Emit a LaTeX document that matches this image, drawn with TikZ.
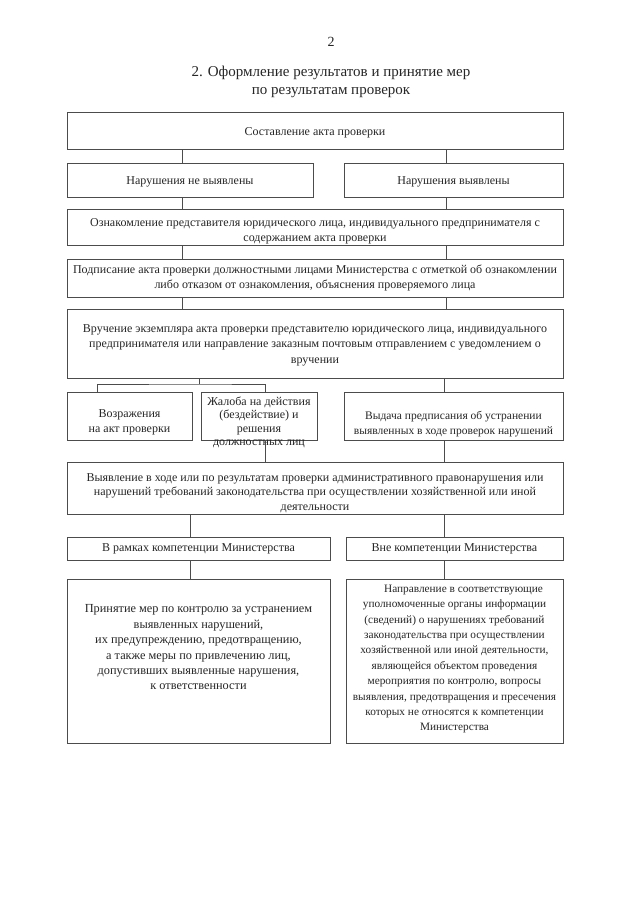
\documentclass[tikz,border=0pt]{standalone}
\usepackage{fontspec}
\setmainfont{Liberation Serif}
\newcommand\lowerby[1]{\rule{0pt}{#1}}
\begin{document}
\begin{tikzpicture}[x=1pt,y=-1pt,
  box/.style={draw=black!70, line width=0.7pt, inner sep=0pt, align=center,
    text=black!85, font=\fontsize{12}{15.5}\selectfont},
  txt/.style={inner sep=0pt, align=center, text=black!85, font=\fontsize{12}{15.3}\selectfont},
  ln/.style={draw=black!70, line width=0.7pt}]
\useasboundingbox[fill=white] (0,0) rectangle (640,905);

\node[txt, font=\fontsize{14}{17}\selectfont] (pg) at (331,42) {2};
\node[txt, font=\fontsize{15}{17.5}\selectfont] (title) at (331,82) {2. Оформление результатов и принятие мер\\по результатам проверок};

\node[box, minimum width=496pt, minimum height=37pt] (b1) at (315,130.5) {\lowerby{12pt}Составление акта проверки};
\node[box, minimum width=246pt, minimum height=34pt] (r2l) at (190,180) {\lowerby{12pt}Нарушения не выявлены};
\node[box, minimum width=219pt, minimum height=34pt] (r2r) at (453.5,180) {\lowerby{12pt}Нарушения выявлены};
\node[box, minimum width=496pt, minimum height=36pt] (b3) at (315,227) {\lowerby{17pt}Ознакомление представителя юридического лица, индивидуального предпринимателя с\\содержанием акта проверки};
\node[box, minimum width=496pt, minimum height=38pt] (b4) at (315,278) {Подписание акта проверки должностными лицами Министерства с отметкой об ознакомлении\\либо отказом от ознакомления, объяснения проверяемого лица};
\node[box, minimum width=496pt, minimum height=69pt] (b5) at (315,343.5) {\lowerby{11pt}Вручение экземпляра акта проверки представителю юридического лица, индивидуального\\предпринимателя или направление заказным почтовым отправлением с уведомлением о\\вручении};
\node[box, minimum width=125pt, minimum height=48pt] (r6a) at (129.5,416) {\lowerby{21pt}Возражения\\на акт проверки};
\node[box, minimum width=116pt, minimum height=48pt] (r6b) at (259,416) {};
\node[txt, anchor=north, font=\fontsize{12}{13.3}\selectfont] (t6b) at ([yshift=-5pt]r6b.north) {Жалоба на действия\\(бездействие) и\\решения\\должностных лиц};
\node[box, minimum width=219pt, minimum height=48pt, font=\fontsize{11.5}{15}\selectfont] (r6c) at (453.5,416) {\lowerby{25pt}Выдача предписания об устранении\\выявленных в ходе проверок нарушений};
\node[box, minimum width=496pt, minimum height=52pt, font=\fontsize{12}{14.7}\selectfont] (b7) at (315,488) {\lowerby{18pt}Выявление в ходе или по результатам проверки административного правонарушения или\\нарушений требований законодательства при осуществлении хозяйственной или иной\\деятельности};
\node[box, minimum width=263pt, minimum height=23pt] (r8l) at (198.5,548.5) {В рамках компетенции Министерства};
\node[box, minimum width=217pt, minimum height=23pt] (r8r) at (454.5,548.5) {Вне компетенции Министерства};
\node[box, minimum width=263pt, minimum height=164pt] (r9l) at (198.5,661) {};
\node[box, minimum width=217pt, minimum height=164pt] (r9r) at (454.5,661) {};

\node[txt, anchor=north, font=\fontsize{12.3}{15.4}\selectfont] (t9l) at ([yshift=-26pt]r9l.north) {Принятие мер по контролю за устранением\\выявленных нарушений,\\их предупреждению, предотвращению,\\а также меры по привлечению лиц,\\допустивших выявленные нарушения,\\к ответственности};
\node[txt, anchor=north, font=\fontsize{11.3}{15.4}\selectfont] (t9r) at ([yshift=-6pt]r9r.north) {\hspace*{1.6em}Направление в соответствующие\\уполномоченные органы информации\\(сведений) о нарушениях требований\\законодательства при осуществлении\\хозяйственной или иной деятельности,\\являющейся объектом проведения\\мероприятия по контролю, вопросы\\выявления, предотвращения и пресечения\\которых не относятся к компетенции\\Министерства};

\coordinate (xa) at (182,0);
\coordinate (xb) at (446,0);
\coordinate (xc) at (444,0);
\coordinate (xd) at (265,0);
\coordinate (xe) at (190,0);
\coordinate (xl) at (97,0);
\coordinate (br) at (199,384);

\draw[ln] (b1.south -| xa) -- (r2l.north -| xa);
\draw[ln] (b1.south -| xb) -- (r2r.north -| xb);
\draw[ln] (r2l.south -| xa) -- (b3.north -| xa);
\draw[ln] (r2r.south -| xb) -- (b3.north -| xb);
\draw[ln] (b3.south -| xa) -- (b4.north -| xa);
\draw[ln] (b3.south -| xb) -- (b4.north -| xb);
\draw[ln] (b4.south -| xa) -- (b5.north -| xa);
\draw[ln] (b4.south -| xb) -- (b5.north -| xb);
\draw[ln] (b5.south -| br) -- (br);
\draw[ln] (r6a.north -| xl) |- (br) -| (r6b.north -| xd);
\draw[ln] (b5.south -| xc) -- (r6c.north -| xc);
\draw[ln] (r6b.south -| xd) -- (b7.north -| xd);
\draw[ln] (r6c.south -| xc) -- (b7.north -| xc);
\draw[ln] (b7.south -| xe) -- (r8l.north -| xe);
\draw[ln] (b7.south -| xc) -- (r8r.north -| xc);
\draw[ln] (r8l.south -| xe) -- (r9l.north -| xe);
\draw[ln] (r8r.south -| xc) -- (r9r.north -| xc);
\end{tikzpicture}
\end{document}
